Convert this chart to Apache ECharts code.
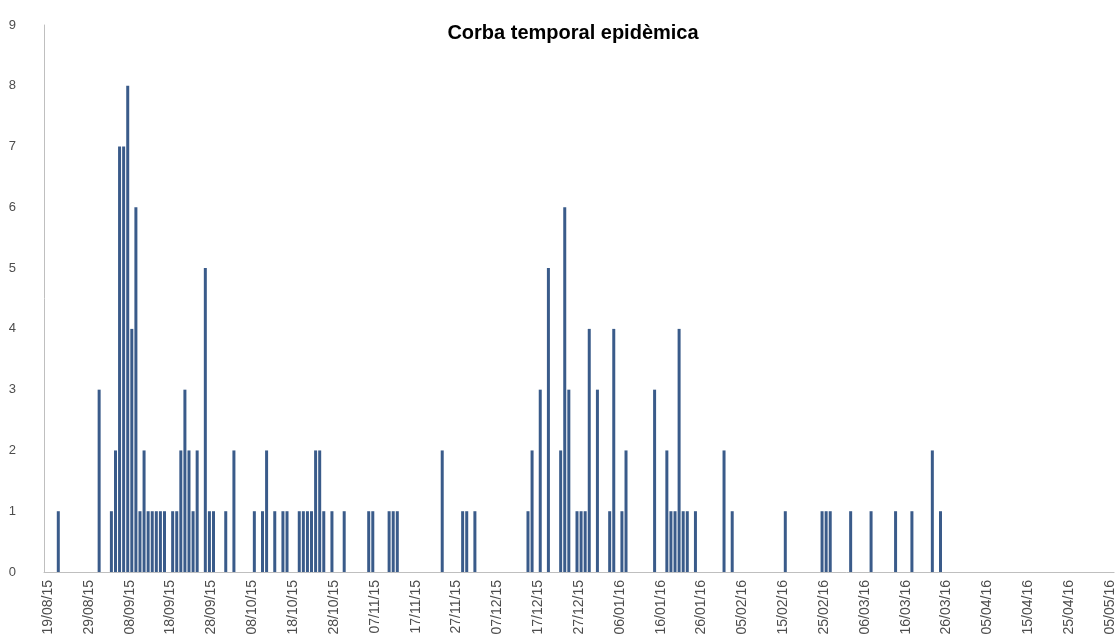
<!DOCTYPE html>
<html>
<head>
<meta charset="utf-8">
<script src="https://cdn.jsdelivr.net/npm/echarts@6/dist/echarts.min.js"></script>
<style>
  html, body { margin: 0; padding: 0; background: #ffffff; }
  #chart { width: 1117px; height: 641px; }
</style>
</head>
<body>
<div id="chart"></div>
<script>
// ---- data ----
var titleText = 'Corba temporal epidèmica';
var firstDay = '18/08/15';   // first category (axis start)
var lastDay = '05/05/16';    // last category
var tickLabels = ['19/08/15','29/08/15','08/09/15','18/09/15','28/09/15','08/10/15','18/10/15','28/10/15',
  '07/11/15','17/11/15','27/11/15','07/12/15','17/12/15','27/12/15','06/01/16','16/01/16','26/01/16',
  '05/02/16','15/02/16','25/02/16','06/03/16','16/03/16','26/03/16','05/04/16','15/04/16','25/04/16','05/05/16'];
var caseDates = ['21/08/15','31/08/15','03/09/15','04/09/15','05/09/15','06/09/15','07/09/15','08/09/15','09/09/15',
  '10/09/15','11/09/15','12/09/15','13/09/15','14/09/15','15/09/15','16/09/15','18/09/15','19/09/15','20/09/15',
  '21/09/15','22/09/15','23/09/15','24/09/15','26/09/15','27/09/15','28/09/15','01/10/15','03/10/15','08/10/15',
  '10/10/15','11/10/15','13/10/15','15/10/15','16/10/15','19/10/15','20/10/15','21/10/15','22/10/15','23/10/15',
  '24/10/15','25/10/15','27/10/15','30/10/15','05/11/15','06/11/15','10/11/15','11/11/15','12/11/15','23/11/15',
  '28/11/15','29/11/15','01/12/15','14/12/15','15/12/15','17/12/15','19/12/15','22/12/15','23/12/15','24/12/15',
  '26/12/15','27/12/15','28/12/15','29/12/15','31/12/15','03/01/16','04/01/16','06/01/16','07/01/16','14/01/16',
  '17/01/16','18/01/16','19/01/16','20/01/16','21/01/16','22/01/16','24/01/16','31/01/16','02/02/16','15/02/16',
  '24/02/16','25/02/16','26/02/16','02/03/16','07/03/16','13/03/16','17/03/16','22/03/16','24/03/16'];
var caseCounts = [1,3,1,2,7,7,8,4,6,
  1,2,1,1,1,1,1,1,1,2,
  3,2,1,2,5,1,1,1,2,1,
  1,2,1,1,1,1,1,1,1,2,
  2,1,1,1,1,1,1,1,1,2,
  1,1,1,1,2,3,5,2,6,3,
  1,1,1,4,3,1,4,1,2,3,
  2,1,1,4,1,1,1,2,1,1,
  1,1,1,1,1,1,1,2,1];
var yMin = 0, yMax = 9, yStep = 1;

// ---- build day categories ----
function parseD(s) { var p = s.split('/'); return new Date(Date.UTC(2000 + +p[2], +p[1] - 1, +p[0])); }
function fmtD(d) {
  var dd = ('0' + d.getUTCDate()).slice(-2), mm = ('0' + (d.getUTCMonth() + 1)).slice(-2), yy = ('' + d.getUTCFullYear()).slice(-2);
  return dd + '/' + mm + '/' + yy;
}
var days = [];
for (var t = parseD(firstDay).getTime(); t <= parseD(lastDay).getTime(); t += 86400000) days.push(fmtD(new Date(t)));
// boundaries (start of each day), one more than days
var bounds = days.slice();
bounds.push(fmtD(new Date(parseD(lastDay).getTime() + 86400000)));

var countMap = {};
caseDates.forEach(function (d, i) { countMap[d] = caseCounts[i]; });
var values = days.map(function (d) { return countMap[d] !== undefined ? countMap[d] : null; });
var tickSet = {};
tickLabels.forEach(function (l) { tickSet[l] = true; });

var FONT = 'Liberation Sans, Arial, sans-serif';
var chart = echarts.init(document.getElementById('chart'), null, { renderer: 'canvas' });
chart.setOption({
  backgroundColor: '#ffffff',
  animation: false,
  title: {
    text: titleText,
    left: 568, top: 18, textAlign: 'center',
    textStyle: { fontFamily: FONT, fontSize: 20, fontWeight: 'bold', color: '#000000' }
  },
  grid: { left: 44, right: 1, top: 25, bottom: 69, containLabel: false },
  xAxis: [
    {
      type: 'category', data: days, boundaryGap: true,
      axisLine: { show: true, lineStyle: { color: '#bfbfbf', width: 1 } },
      axisTick: { show: false }, axisLabel: { show: false }, splitLine: { show: false }
    },
    {
      type: 'category', data: bounds, boundaryGap: false, position: 'bottom',
      axisLine: { show: false }, axisTick: { show: false }, splitLine: { show: false },
      axisLabel: {
        show: true, rotate: 90, margin: 8,
        interval: function (idx, val) { return !!tickSet[val]; },
        fontFamily: FONT, fontSize: 14, color: '#4d4d4d'
      }
    }
  ],
  yAxis: {
    type: 'value', min: yMin, max: yMax, interval: yStep,
    axisLine: { show: true, lineStyle: { color: '#bfbfbf', width: 1 } },
    axisTick: { show: false }, splitLine: { show: false },
    axisLabel: { margin: 28, fontFamily: FONT, fontSize: 13, color: '#4d4d4d' }
  },
  series: [{
    type: 'bar', xAxisIndex: 0, data: values, barWidth: 3,
    itemStyle: { color: '#3a5b8a' }
  }]
});
</script>
</body>
</html>
